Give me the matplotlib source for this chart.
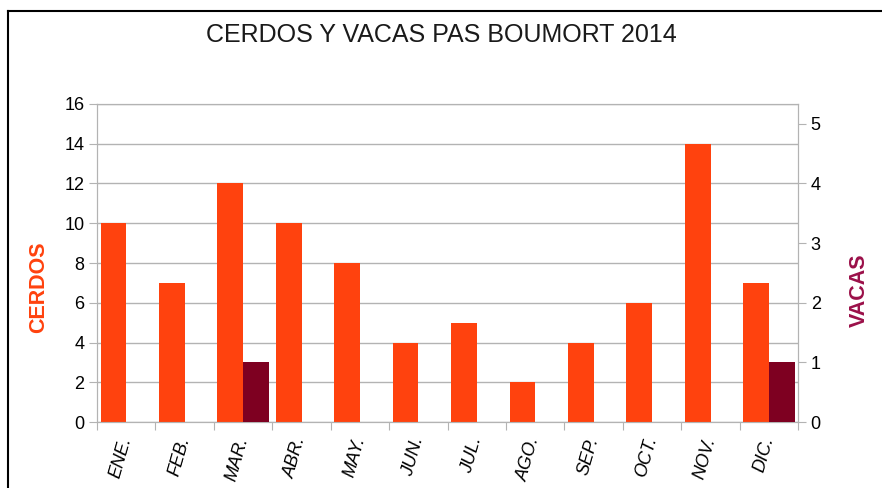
import matplotlib
matplotlib.use('Agg')
import matplotlib.pyplot as plt
import numpy as np
from matplotlib.lines import Line2D

meses = ['ENE.', 'FEB.', 'MAR.', 'ABR.', 'MAY.', 'JUN.', 'JUL.', 'AGO.', 'SEP.', 'OCT.', 'NOV.', 'DIC.']
cerdos = [10, 7, 12, 10, 8, 4, 5, 2, 4, 6, 14, 7]
vacas = [0, 0, 1, 0, 0, 0, 0, 0, 0, 0, 0, 1]

plt.rcParams['font.family'] = ['Liberation Sans', 'DejaVu Sans']

fig = plt.figure(figsize=(8.82, 4.88), dpi=100)
ax = fig.add_axes([0.110, 0.135, 0.795, 0.652])
ax2 = ax.twinx()

x = np.arange(len(meses))
w = 0.44
ax.bar(x - w / 2, cerdos, width=w, color='#ff420e', zorder=3)
ax2.bar(x + w / 2, vacas, width=w, color='#7e0021', zorder=3)

ax.set_xlim(-0.5, 11.5)
ax.set_ylim(0, 16)
ax2.set_ylim(0, 16 / 3)
ax.set_yticks(range(0, 17, 2))
ax2.set_yticks(range(0, 6))
ax.grid(axis='y', color='#b3b3b3', lw=1, zorder=0)
ax.set_axisbelow(True)

# ticks at category boundaries, labels centred in each slot
ax.set_xticks(np.arange(-0.5, 12, 1))
ax.set_xticklabels([])
ax.set_xticks(x, minor=True)
ax.set_xticklabels(meses, minor=True, rotation=74, ha='right', va='center',
                   rotation_mode='anchor', fontsize=13, style='italic')
ax.tick_params(axis='x', which='minor', length=0, pad=11)
ax.tick_params(axis='x', which='major', length=6, color='#b3b3b3')

for a in (ax, ax2):
    for s in a.spines.values():
        s.set_color('#b3b3b3')
    a.tick_params(axis='y', length=6, color='#b3b3b3', labelsize=13, pad=3)

ax.set_ylabel('CERDOS', color='#ff420e', fontsize=15.5, fontweight='bold')
ax.yaxis.set_label_coords(-0.068, 0.425)
ax2.set_ylabel('VACAS', color='#9b1049', fontsize=15.5, fontweight='bold')
ax2.yaxis.set_label_coords(1.072, 0.415)

fig.text(0.5, 0.928, 'CERDOS Y VACAS PAS BOUMORT 2014', ha='center', va='center',
         fontsize=18, color='#1a1a1a')

# frame of the original screenshot
fig.add_artist(Line2D([8 / 882, 8 / 882], [0, 1 - 11 / 488], color='black', lw=1.5))
fig.add_artist(Line2D([8 / 882, 1], [1 - 11 / 488, 1 - 11 / 488], color='black', lw=1.5))

fig.savefig('out.png', dpi=100)
